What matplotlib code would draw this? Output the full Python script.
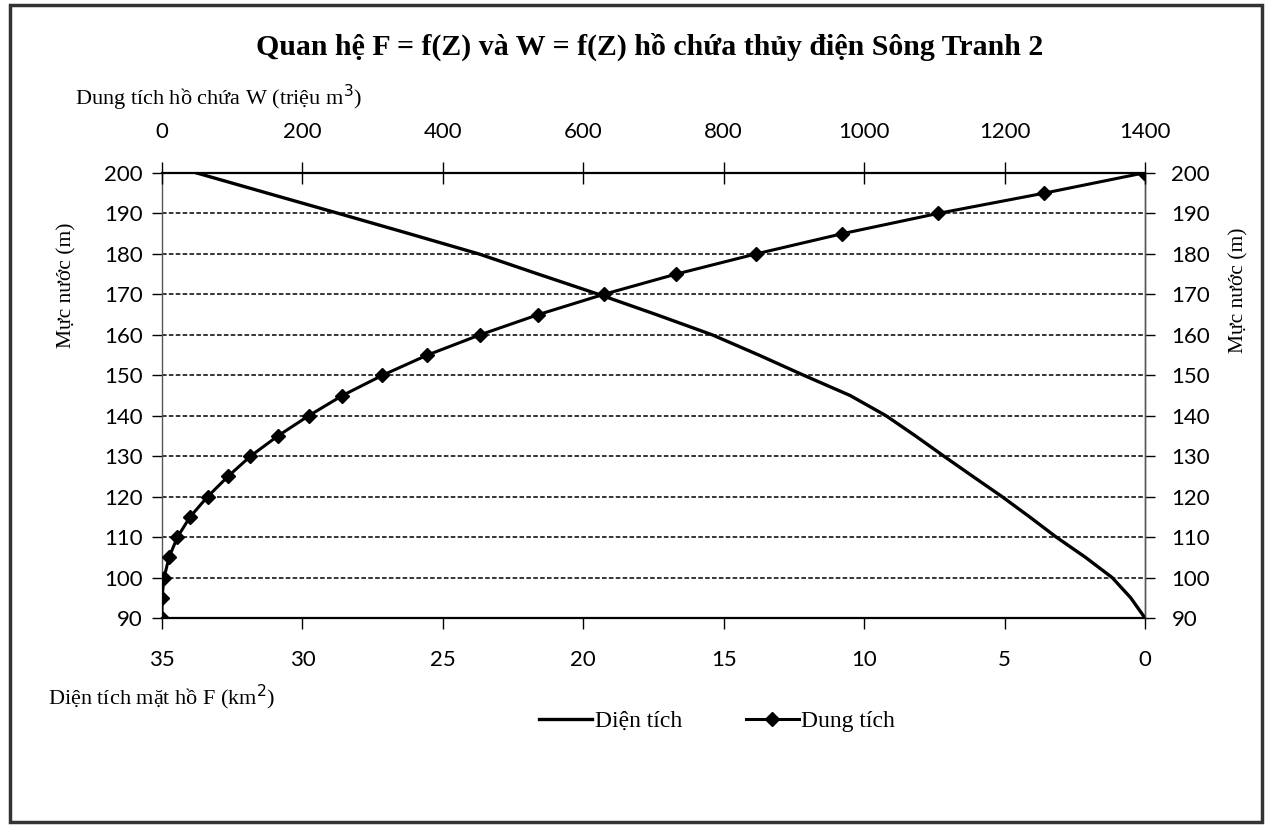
import numpy as np
import matplotlib.pyplot as plt
from matplotlib.patches import Rectangle
from matplotlib.lines import Line2D

# Mực nước Z (m)
muc_nuoc = [90, 95, 100, 105, 110, 115, 120, 125, 130, 135, 140, 145,
            150, 155, 160, 165, 170, 175, 180, 185, 190, 195, 200]

# Dung tích W (triệu m3)
dung_tich = [0, 0, 3, 10, 22, 40, 65, 94, 126, 165, 209, 257,
             314, 378, 453, 536, 629, 732, 846, 969, 1105, 1256, 1398]

# Diện tích F (km2)
dien_tich = [0, 0.51, 1.17, 2.12, 3.16, 4.11, 5.09, 6.13, 7.16, 8.17, 9.22, 10.5,
             12.15, 13.75, 15.41, 17.4, 19.45, 21.6, 23.72, 26.2, 28.71, 31.24, 33.76]

w_ticks = [0, 200, 400, 600, 800, 1000, 1200, 1400]
f_ticks = [35, 30, 25, 20, 15, 10, 5, 0]
z_ticks = list(range(90, 201, 10))

serif = 'Liberation Serif'
sans = 'Lato'

fig = plt.figure(figsize=(12.67, 8.32), dpi=100)
fig.patch.set_facecolor('white')

# outer frame of the chart
fig.add_artist(Rectangle((10 / 1267, 1 - 822 / 832), 1252 / 1267, 817 / 832,
                         transform=fig.transFigure, fill=False,
                         edgecolor='#333333', linewidth=2.5))

ax = fig.add_axes([162 / 1267, 1 - 618 / 832, 983 / 1267, 445 / 832])
ax.set_xlim(35, 0)
ax.set_ylim(90, 200)

# horizontal grid
for z in z_ticks[1:-1]:
    ax.axhline(z, color='black', linestyle=(0, (3, 1.5)), linewidth=1.1, zorder=1)

ln_f, = ax.plot(dien_tich, muc_nuoc, color='black', linewidth=2.4, zorder=3)

ax.set_xticks(f_ticks)
ax.set_yticks(z_ticks)
ax.tick_params(axis='x', direction='out', length=8, width=1, pad=15,
               labelsize=16)
ax.tick_params(axis='y', direction='out', length=7, width=1, pad=7,
               labelsize=16)
for lab in ax.get_xticklabels() + ax.get_yticklabels():
    lab.set_family(sans)

# right-hand water level axis
ax_r = ax.secondary_yaxis('right')
ax_r.set_yticks(z_ticks)
ax_r.tick_params(axis='y', direction='out', length=7, width=1, pad=12,
                 labelsize=16)
for lab in ax_r.get_yticklabels():
    lab.set_family(sans)
ax_r.spines['right'].set_color('#555555')
ax_r.spines['right'].set_linewidth(1.0)

ax.spines['left'].set_color('#555555')
ax.spines['right'].set_color('#555555')
ax.spines['left'].set_linewidth(1.0)
ax.spines['right'].set_linewidth(1.0)
ax.spines['bottom'].set_linewidth(1.6)
ax.spines['top'].set_linewidth(1.6)

ax2 = ax.twiny()
ax2.set_xlim(0, 1400)
ln_w, = ax2.plot(dung_tich, muc_nuoc, color='black', linewidth=2.2,
                 marker='D', markersize=7, zorder=4)
ax2.set_xticks(w_ticks)
ax2.tick_params(axis='x', direction='inout', length=16, width=1, pad=14,
                labelsize=16)
for lab in ax2.get_xticklabels():
    lab.set_family(sans)
for s in ax2.spines.values():
    s.set_visible(False)

fig.text(650 / 1267, 1 - 47 / 832,
         'Quan hệ F = f(Z) và W = f(Z) hồ chứa thủy điện Sông Tranh 2',
         ha='center', va='center', family=serif, fontweight='bold',
         fontsize=21.5)
fig.text(75 / 1267, 1 - 98 / 832, 'Dung tích hồ chứa W (triệu m$^3$)',
         ha='left', va='center', family=serif, fontsize=16)
fig.text(48 / 1267, 1 - 697 / 832, 'Diện tích mặt hồ F (km$^2$)',
         ha='left', va='center', family=serif, fontsize=16)
fig.text(67 / 1267, 1 - 285 / 832, 'Mực nước (m)', rotation=90,
         ha='center', va='center', family=serif, fontsize=15.5)
fig.text(1239 / 1267, 1 - 290 / 832, 'Mực nước (m)', rotation=90,
         ha='center', va='center', family=serif, fontsize=15.5)

handles = [Line2D([], [], color='black', linewidth=2.4),
           Line2D([], [], color='black', linewidth=2.2, marker='D', markersize=7)]
fig.legend(handles, ['Diện tích', 'Dung tích'], loc='center',
           bbox_to_anchor=(717 / 1267, 1 - 721 / 832), ncol=2, frameon=False,
           prop={'family': serif, 'size': 17}, handlelength=2.25,
           handletextpad=0.1, columnspacing=2.7)

fig.savefig('out.png', dpi=100)
